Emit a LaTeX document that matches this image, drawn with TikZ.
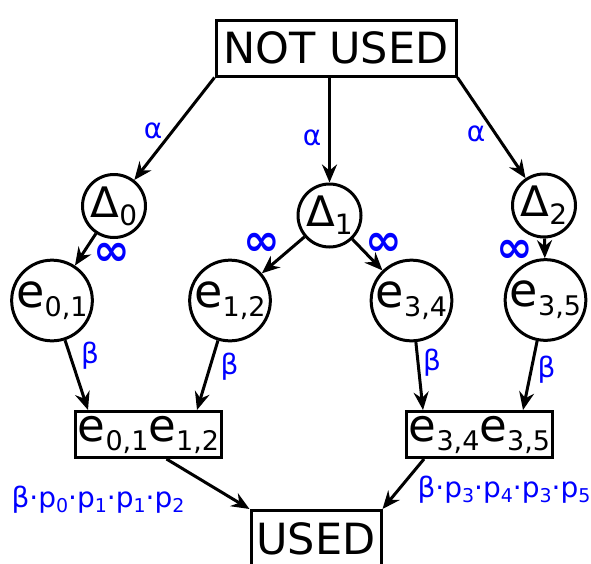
\documentclass[tikz,border=0pt]{standalone}
\usepackage{fontspec}
\setmainfont{DejaVu Sans}
\usetikzlibrary{arrows.meta}
\newcommand\fs[1]{\fontsize{#1}{#1}\selectfont}
\newcommand\esub[1]{\raisebox{-9pt}{\fs{27}#1}}
\newcommand\dsub[1]{\raisebox{-8pt}{\fs{28}#1}}
\newcommand\bsub[1]{\raisebox{-5pt}{\fs{19}#1}}
\begin{document}
\begin{tikzpicture}[x=1pt,y=-1pt,
  every node/.style={inner sep=0pt},
  box/.style={draw,line width=3pt,rectangle},
  circ/.style={draw,line width=3pt,circle},
  lab/.style={text=blue,font=\fs{28}},
  inf/.style={text=blue,font=\fs{44}\bfseries},
  arr/.style={line width=3pt,-{Stealth[length=18pt,width=15pt,inset=6pt]}}]
\useasboundingbox (0,0) rectangle (591,563);
% nodes
\node[box,minimum width=240pt,minimum height=56pt,font=\fs{43}] (top) at (336,48) {NOT USED};
\node[circ,minimum size=63pt,font=\fs{42}] (d0) at (114,206) {Δ\dsub{0}};
\node[circ,minimum size=63pt,font=\fs{42}] (d1) at (329.5,215.5) {Δ\dsub{1}};
\node[circ,minimum size=63pt,font=\fs{42}] (d2) at (544,205.5) {Δ\dsub{2}};
\node[circ,minimum size=74pt,font=\fs{46}] (e01) at (52,300.5) {e\esub{0,1}};
\node[circ,minimum size=74pt,font=\fs{46}] (e12) at (230,300.5) {e\esub{1,2}};
\node[circ,minimum size=74pt,font=\fs{46}] (e34) at (411.5,300.5) {e\esub{3,4}};
\node[circ,minimum size=74pt,font=\fs{46}] (e35) at (545.5,300) {e\esub{3,5}};
\node[box,minimum width=146pt,minimum height=46pt,font=\fs{45}] (b1) at (148.5,434.5) {e\esub{0,1}e\esub{1,2}};
\node[box,minimum width=146pt,minimum height=46pt,font=\fs{45}] (b2) at (479.5,434.5) {e\esub{3,4}e\esub{3,5}};
\node[box,minimum width=130pt,minimum height=56pt,font=\fs{43}] (used) at (316,538.5) {USED};
% connectors
\draw[arr] (top.south west) -- (d0);
\draw[arr] (top.south -| d1) -- (d1);
\draw[arr] (top.south east) -- (d2);
\draw[arr] (d0) -- (e01);
\draw[arr] (d1) -- (e12);
\draw[arr] (d1) -- (e34);
\draw[arr] (d2) -- (e35);
\draw[arr] (e01) -- ([xshift=14pt]b1.north west);
\draw[arr] (e12) -- ([xshift=-26pt]b1.north east);
\draw[arr] (e34) -- ([xshift=18pt]b2.north west);
\draw[arr] (e35) -- ([xshift=-31pt]b2.north east);
\draw[arr] ([xshift=18pt]b1.south) -- (used.north west);
\draw[arr] ([xshift=19pt]b2.south west) -- (used.north east);
% labels
\node[lab] (a0) at (153,131) {α};
\node[lab] (a1) at (312,138) {α};
\node[lab] (a2) at (476,134) {α};
\node[inf] (i0) at (112,254) {∞};
\node[inf] (i1) at (262,244) {∞};
\node[inf] (i2) at (384,244) {∞};
\node[inf] (i3) at (515,251) {∞};
\node[lab] (bt0) at (90,356) {β};
\node[lab] (bt1) at (229.5,367) {β};
\node[lab] (bt2) at (432,363) {β};
\node[lab] (bt3) at (546.5,370) {β};
\node[lab] (p1) at (98,500) {β·p\bsub{0}·p\bsub{1}·p\bsub{1}·p\bsub{2}};
\node[lab] (p2) at (504,490) {β·p\bsub{3}·p\bsub{4}·p\bsub{3}·p\bsub{5}};
\end{tikzpicture}
\end{document}
